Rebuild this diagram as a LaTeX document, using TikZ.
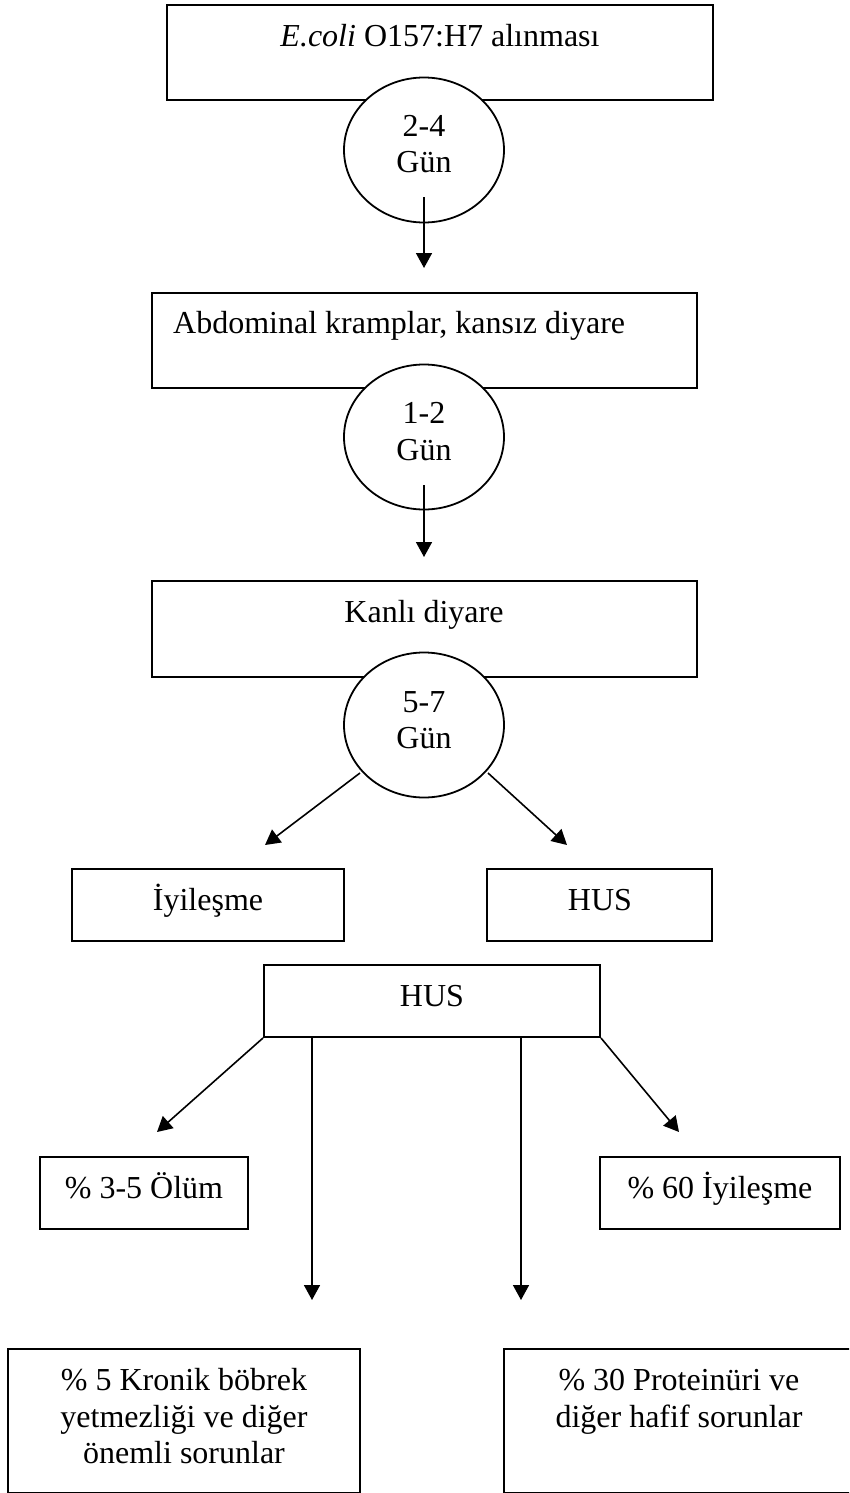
\documentclass[tikz,border=0pt]{standalone}
\usepackage{fontspec}
\setmainfont{Liberation Serif}
\usetikzlibrary{arrows.meta,shapes.geometric}
\begin{document}
\begin{tikzpicture}[x=1pt,y=-1pt,
  every node/.style={font=\fontsize{32}{37}\selectfont},
  boxn/.style={draw,line width=2pt,rectangle,inner sep=0pt},
  ovaln/.style={draw,line width=1.8pt,ellipse,fill=white,inner sep=0pt,minimum width=160pt,minimum height=145pt},
  txt/.style={anchor=base,inner sep=0pt},
  arr/.style={line width=1.6pt,-{Triangle[length=15pt,width=16pt]}},
  plain/.style={line width=1.6pt}]
\clip (0,0) rectangle (849,1493);
\fill[white] (0,0) rectangle (849,1493);
% top chain
\node[boxn,minimum width=546pt,minimum height=95pt] (b1) at (440,52.5) {};
\node[txt] (t1) at (440,47) {\textit{E.coli} O157:H7 alınması};
\node[ovaln] (c1) at (424,150) {};
\node[txt] (c1a) at (424,136) {2-4};
\node[txt] (c1b) at (424,172) {Gün};
\coordinate (a1s) at (424,197);
\coordinate (a1e) at (424,268);
\draw[arr] (a1s) -- (a1e);

\node[boxn,minimum width=545pt,minimum height=95pt] (b2) at (424.5,340.5) {};
\node[txt,anchor=base west] (t2) at (173,333) {Abdominal kramplar, kansız diyare};
\node[ovaln] (c2) at (424,437) {};
\node[txt] (c2a) at (424,423) {1-2};
\node[txt] (c2b) at (424,460) {Gün};
\coordinate (a2s) at (424,485);
\coordinate (a2e) at (424,557);
\draw[arr] (a2s) -- (a2e);

\node[boxn,minimum width=545pt,minimum height=96pt] (b3) at (424.5,629) {};
\node[txt] (t3) at (424,622) {Kanlı diyare};
\node[ovaln] (c3) at (424,725) {};
\node[txt] (c3a) at (424,712) {5-7};
\node[txt] (c3b) at (424,748) {Gün};
\coordinate (a3s) at (360,773);
\coordinate (a3e) at (265,845);
\coordinate (a4s) at (488,773);
\coordinate (a4e) at (567,845);
\draw[arr] (a3s) -- (a3e);
\draw[arr] (a4s) -- (a4e);

% second row
\node[boxn,minimum width=272pt,minimum height=72pt] (b4) at (208,905) {};
\node[txt] (t4) at (208,910) {İyileşme};
\node[boxn,minimum width=225pt,minimum height=72pt] (b5) at (599.5,905) {};
\node[txt] (t5) at (600,910) {HUS};

% HUS branch
\node[boxn,minimum width=336pt,minimum height=72pt] (hus) at (432,1001) {};
\node[txt] (t6) at (432,1006) {HUS};
\coordinate (v1s) at (312,1037);
\coordinate (v1e) at (312,1300);
\coordinate (v2s) at (521,1037);
\coordinate (v2e) at (521,1300);
\coordinate (dle) at (157,1132);
\coordinate (dre) at (679,1132);
\draw[arr] (hus.south west) -- (dle);
\draw[arr] (hus.south east) -- (dre);
\draw[arr] (v1s) -- (v1e);
\draw[arr] (v2s) -- (v2e);

\node[boxn,minimum width=208pt,minimum height=72pt] (b7) at (144,1193) {};
\node[txt] (t7) at (144,1198) {\% 3-5 Ölüm};
\node[boxn,minimum width=240pt,minimum height=72pt] (b8) at (720,1193) {};
\node[txt] (t8) at (720,1198) {\% 60 İyileşme};

\node[boxn,minimum width=352pt,minimum height=144pt] (b9) at (184,1421) {};
\node[txt] (t9a) at (184,1390) {\% 5 Kronik böbrek};
\node[txt] (t9b) at (184,1427) {yetmezliği ve diğer};
\node[txt] (t9c) at (184,1463) {önemli sorunlar};
\node[boxn,minimum width=360pt,minimum height=144pt] (b10) at (684,1421) {};
\node[txt] (t10a) at (679,1390) {\% 30 Proteinüri ve};
\node[txt] (t10b) at (679,1427) {diğer hafif sorunlar};
\end{tikzpicture}
\end{document}
